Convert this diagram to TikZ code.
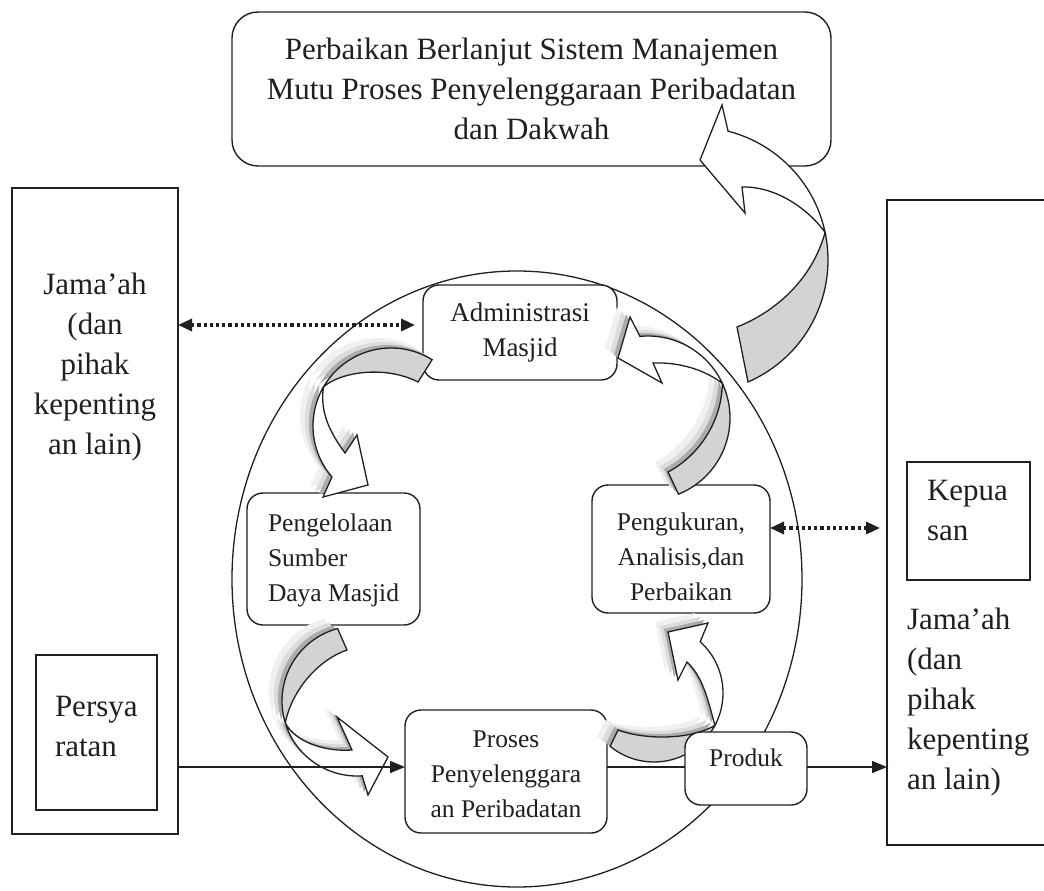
\documentclass[tikz,border=0pt]{standalone}
\usepackage{fontspec}
\setmainfont{Liberation Serif}
\usetikzlibrary{arrows.meta,calc}
\definecolor{ink}{RGB}{35,31,32}
\definecolor{bandgray}{RGB}{209,211,212}
\definecolor{shA}{RGB}{240,240,240}
\definecolor{shB}{RGB}{220,220,220}
\definecolor{shC}{RGB}{172,172,172}

\newcommand\ArrT[2]{%
  \path[#1] plot[domain=-12:66.5,samples=40,variable=\t] ({695+133*cos(\t)},{260+133*sin(\t)}) -- (737,327) .. controls (775,312) and (812,280) .. (825.1,232.35) -- cycle;
  \path[#2] plot[domain=-75.6:-12,samples=40,variable=\t] ({695+133*cos(\t)},{260+133*sin(\t)}) .. controls (805,205) and (772,186) .. (742,187) -- (745,213) -- (700,160) -- (722,105) -- cycle;}
\newcommand\ArrR[2]{%
  \path[#1] plot[domain=-25:68.2,samples=40,variable=\t] ({648+82*cos(\t)},{418+82*sin(\t)}) -- (668,472) .. controls (700,455) and (722,420) .. (722.3,383.35) -- cycle;
  \path[#2] plot[domain=-95.6:-25,samples=40,variable=\t] ({648+82*cos(\t)},{418+82*sin(\t)}) .. controls (705,370) and (680,362) .. (653,363) -- (662,383) -- (618,358) -- (630,317) -- cycle;}
\newcommand\ArrA[2]{%
  \path[#1] plot[domain=-58.2:-150,samples=40,variable=\t] ({391+78*cos(\t)},{426+78*sin(\t)}) .. controls (340,372) and (385,365) .. (418,382) -- cycle;
  \path[#2] plot[domain=-150:-220.8,samples=40,variable=\t] ({391+78*cos(\t)},{426+78*sin(\t)}) -- (323,497) -- (368,485) -- (357,435) -- (345,453) .. controls (328,430) and (320,410) .. (323.45,387) -- cycle;}
\newcommand\ArrB[2]{%
  \path[#1] plot[domain=-105:-197,samples=40,variable=\t] ({357+75*cos(\t)},{701+75*sin(\t)}) .. controls (292,690) and (318,660) .. (347,650) -- cycle;
  \path[#2] plot[domain=-197:-274,samples=40,variable=\t] ({357+75*cos(\t)},{701+75*sin(\t)}) -- (368,795) -- (388,757) -- (337,717) -- (352,750) .. controls (325,752) and (295,742) .. (285.3,722.9) -- cycle;}
\newcommand\ArrC[2]{%
  \path[#1] plot[domain=28:129.5,samples=40,variable=\t] ({654+69*cos(\t)},{693+69*sin(\t)}) -- (618,730) .. controls (645,740) and (690,740) .. (714.9,725.4) -- cycle;
  \path[#2] plot[domain=28:-48,samples=40,variable=\t] ({654+69*cos(\t)},{693+69*sin(\t)}) -- (708,623) -- (668,632) -- (678,680) -- (687,662) .. controls (703,677) and (708,700) .. (714.9,725.4) -- cycle;}
\newcommand\WithShadow[1]{%
  #1{shadeone}{shadeone}#1{shadetwo}{shadetwo}#1{shadethree}{shadethree}#1{back}{face}}

\begin{document}
\begin{tikzpicture}[x=1pt,y=-1pt,
  every node/.style={inner sep=0pt,outer sep=0pt},
  sqbox/.style={draw=ink,line width=1.4pt,fill=white},
  rbox/.style={draw=ink,line width=1.4pt,fill=white,rounded corners=16pt},
  bigtxt/.style={font=\fontsize{31}{40}\selectfont,text=ink},
  midtxt/.style={font=\fontsize{27}{35}\selectfont,text=ink},
  smalltxt/.style={font=\fontsize{25.5}{35}\selectfont,text=ink},
  solidarrow/.style={draw=ink,line width=1.6pt,-{Triangle[length=15pt,width=12pt]}},
  plainline/.style={draw=ink,line width=1.6pt},
  dotarrow/.style={draw=ink,line width=3.2pt,dash pattern=on 3.2pt off 3pt,{Triangle[length=14pt,width=12pt]}-{Triangle[length=14pt,width=12pt]}},
  face/.style={draw=ink,line width=1.3pt,fill=white,line join=miter},
  back/.style={draw=ink,line width=1.3pt,fill=bandgray,line join=miter},
  shadeone/.style={fill=shA,shift={(-13,-10)}},
  shadetwo/.style={fill=shB,shift={(-8,-6)}},
  shadethree/.style={fill=shC,shift={(-4,-3)}},
]
\useasboundingbox (0,0) rectangle (1044,891);
\clip (0,0) rectangle (1044,891);

% big circle
\draw[ink,line width=1.3pt] (517,579) ellipse [x radius=285pt, y radius=308pt];

% outer boxes
\node[sqbox,minimum width=166pt,minimum height=646pt] (lbox) at (95,511) {};
\node[bigtxt,align=center] (ltxt) at (95,367) {Jama’ah\\(dan\\pihak\\kepenting\\an lain)};
\node[sqbox,minimum width=121pt,minimum height=155pt] (pbox) at (96.5,732.5) {};
\node[bigtxt,align=left,anchor=west] (ptxt) at (55,726) {Persya\\ratan};

\node[sqbox,minimum width=173pt,minimum height=645pt] (rbox) at (973.5,522.5) {};
\node[sqbox,minimum width=123pt,minimum height=118pt] (kbox) at (968.5,521) {};
\node[bigtxt,align=left,anchor=west] (ktxt) at (927,510) {Kepua\\san};
\node[bigtxt,align=left,anchor=west] (rtxt) at (907,702) {Jama’ah\\(dan\\pihak\\kepenting\\an lain)};

\node[rbox,rounded corners=26pt,minimum width=599pt,minimum height=154pt,bigtxt,align=center] (top) at (531.5,89)
  {Perbaikan Berlanjut Sistem Manajemen\\Mutu Proses Penyelenggaraan Peribadatan\\dan Dakwah};

% inner boxes
\node[rbox,minimum width=194pt,minimum height=95pt,midtxt,align=center] (adm) at (520,332.5) {Administrasi\\Masjid};
\node[rbox,minimum width=173pt,minimum height=132pt] (res) at (333.5,559) {};
\node[smalltxt,align=left,anchor=west] (restxt) at (268,560) {Pengelolaan\\Sumber\\Daya Masjid};
\node[rbox,minimum width=178pt,minimum height=128pt] (meas) at (681,549) {};
\node[smalltxt,align=center] (meastxt) at (681,557) {Pengukuran,\\Analisis,dan\\Perbaikan};
\node[rbox,minimum width=202pt,minimum height=123pt] (pro) at (506,771.5) {};
\node[smalltxt,align=center] (protxt) at (506,774) {Proses\\Penyelenggara\\an Peribadatan};

% dotted connectors
\coordinate (d1) at (0,325);
\coordinate (d2) at (0,528);
\coordinate (h) at (0,767);
\draw[dotarrow,shorten >=8pt] (lbox.east |- d1) -- (adm.west |- d1);
\draw[dotarrow,shorten >=7pt] (meas.east |- d2) -- (rbox.west |- d2);

% curved block arrows
\ArrT{back}{face}
\WithShadow{\ArrR}
\WithShadow{\ArrA}
\WithShadow{\ArrB}
\WithShadow{\ArrC}

% product box and flow line
\node[rbox,minimum width=122pt,minimum height=73pt] (prod) at (746,768.5) {};
\node[smalltxt] (prodtxt) at (746,758) {Produk};
\draw[solidarrow] (lbox.east |- h) -- (pro.west |- h);
\draw[plainline] (pro.east |- h) -- (prod.west |- h);
\draw[solidarrow] (prod.east |- h) -- (rbox.west |- h);
\end{tikzpicture}
\end{document}
